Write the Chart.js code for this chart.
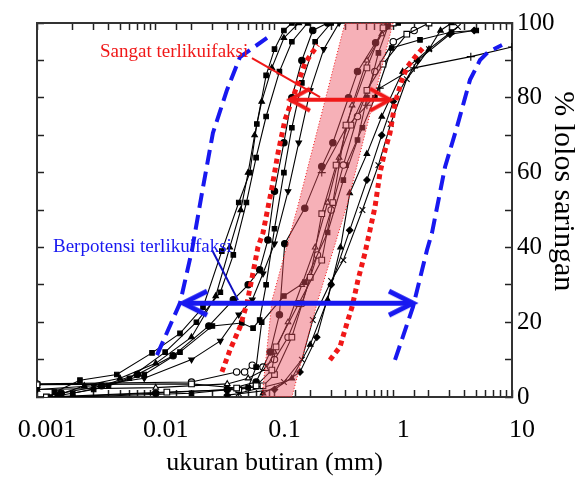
<!DOCTYPE html>
<html><head><meta charset="utf-8">
<script src="https://cdn.jsdelivr.net/npm/chart.js@4/dist/chart.umd.min.js"></script>
<style>html,body{margin:0;padding:0;background:#fff;}</style>
</head><body>
<canvas id="c" width="588" height="492"></canvas>
<script>
// ---- tick labels ----
const xTickLabels = ['0.001', '0.01', '0.1', '1', '10'];
const yTickLabels = [0, 20, 40, 60, 80, 100];

// ---- sample gradation curves [grain size mm, % passing] ----
const sampleA = [[0.0014,1.3],[0.0023,4.5],[0.0047,6],[0.0093,11.8],[0.016,17],[0.025,24],[0.036,39],[0.05,52],[0.062,60],[0.071,73],[0.085,86],[0.1,93],[0.12,98],[0.14,100]];
const sampleB = [[0.0015,0.5],[0.0025,3],[0.005,5],[0.01,9],[0.02,16],[0.032,27],[0.042,40],[0.052,50],[0.06,60],[0.068,70],[0.078,79],[0.095,88],[0.12,96],[0.16,100]];
const sampleC = [[0.0013,0],[0.003,2],[0.006,5],[0.012,12],[0.022,20],[0.035,28],[0.045,38],[0.058,52],[0.07,64],[0.085,75],[0.11,87],[0.14,95],[0.19,100]];
const sampleD = [[0.0016,1],[0.0035,3],[0.007,6],[0.014,11],[0.028,19],[0.045,26],[0.06,30],[0.075,34],[0.088,42],[0.1,55],[0.12,68],[0.14,80],[0.17,90],[0.21,98],[0.28,100]];
const sampleE = [[0.002,1],[0.004,3],[0.008,6],[0.016,12],[0.03,19],[0.053,19.8],[0.066,18.4],[0.075,20.6],[0.085,30],[0.1,45],[0.12,60],[0.14,72],[0.17,84],[0.22,95],[0.3,100]];
const sampleF = [[0.001,2],[0.003,3],[0.008,5],[0.02,10],[0.035,15],[0.05,22],[0.065,26],[0.08,33],[0.1,41],[0.13,55],[0.16,68],[0.2,82],[0.26,93],[0.35,100]];
const sampleG = [[0.001,3.3],[0.02,3.5],[0.048,2.4],[0.07,3],[0.095,7.2],[0.103,13.4],[0.16,25],[0.25,36.6],[0.31,52],[0.4,72.7],[0.6,88],[0.82,98.7],[1.0,100]];
const sampleH = [[0.0012,0],[0.0124,1.3],[0.05,2],[0.08,3],[0.1,6],[0.14,16],[0.2,32],[0.25,49],[0.33,62],[0.44,72.7],[0.6,82],[0.82,89],[1.3,97],[2,100]];
const sampleI = [[0.0015,0],[0.01,1],[0.04,2],[0.07,4],[0.092,12],[0.11,22],[0.122,41],[0.18,50.5],[0.25,61.6],[0.31,68],[0.42,80],[0.5,87],[0.71,94.7],[0.9,100]];
const sampleJ = [[0.002,0],[0.02,1],[0.06,2.5],[0.07,8],[0.078,20],[0.12,27],[0.18,30.7],[0.28,44],[0.38,58],[0.5,68.7],[0.6,80],[0.75,92],[0.9,99],[1.1,100]];
const sampleK = [[0.001,2],[0.01,2.5],[0.04,3.5],[0.06,5],[0.085,7.5],[0.1,12],[0.13,20],[0.17,30],[0.22,40],[0.28,52],[0.35,64],[0.45,78],[0.6,90],[0.8,97],[1.0,100]];
const sampleL = [[0.001,3.5],[0.02,4],[0.048,6.7],[0.056,6.7],[0.065,8.5],[0.08,8],[0.1,10],[0.13,16],[0.17,25],[0.23,38],[0.3,50],[0.38,62],[0.5,75],[0.7,87],[1.0,95],[1.5,98]];
const sampleM = [[0.04,0.5],[0.1,2],[0.164,6.7],[0.227,16],[0.3,30],[0.43,44.6],[0.6,58],[0.8,70],[1.0,79],[1.6,90],[3,97],[4.8,98]];
const sampleN = [[0.05,1],[0.12,4],[0.17,10],[0.21,20.6],[0.3,31],[0.38,36.6],[0.55,50],[0.75,62],[0.95,73],[1.3,85],[2.0,93],[3.5,99]];
const sampleO = [[0.08,1],[0.14,5],[0.2,14],[0.28,26],[0.36,40],[0.43,54.5],[0.6,65],[0.8,75],[1.2,87],[2.0,93],[2.5,98],[3.1,100]];
const sampleP = [[0.25,60],[0.4,72],[0.6,78],[0.77,82.6],[1.5,88],[4.5,91],[10,93.6]];
const sampleQ = [[0.4,62],[0.55,72],[0.7,80],[0.97,93.3],[1.68,95.5],[3.1,97.6],[5,98]];

// ---- boundary curves ----
const blueLeft  = [[0.01024,11.2],[0.016,25.1],[0.0202,39.3],[0.025,56.1],[0.0303,70.6],[0.0398,82.1],[0.0512,90.9],[0.0865,96]];
const blueRight = [[1.035,9.9],[1.466,24.1],[1.924,39.3],[2.12,43.9],[2.73,61.5],[3.44,72.2],[4.43,84.8],[5.38,90.1],[6.28,92.2],[8.24,94.1]];
const redLeft   = [[0.0361,6.7],[0.0422,12.6],[0.0512,18.7],[0.0587,25.1],[0.0659,33.2],[0.0726,40.1],[0.08,43.9],[0.0953,56.1],[0.107,65.2],[0.1225,74.1],[0.158,84],[0.181,89.3],[0.207,92],[0.232,94.1]];
const redRight  = [[0.293,9.9],[0.356,13.4],[0.408,19.8],[0.45,24.1],[0.505,31.3],[0.578,38.5],[0.702,50.8],[0.773,59.9],[0.853,66],[0.939,70.6],[1.035,78.6],[1.186,84.8],[1.306,88.2],[1.525,90.9],[1.78,93.3]];
// pink band outline (left edge up, right edge down)
const pinkBand  = [[0.0785,0],[0.0953,25.9],[0.158,51.3],[0.392,100],[0.995,100],[0.408,51.3],[0.232,25.9],[0.14,0],[0.0785,0]];

// ---- arrows & leader lines ----
const redArrow   = [[0.135,79.5],[0.94,79.5]];
const blueArrow  = [[0.017,25.1],[1.466,25.1]];
const redLeader  = [[0.0646,90.6],[0.242,80.2]];
const blueLeader = [[0.0298,39.3],[0.0493,25.9]];

// ---- annotation texts ----
const noteTexts = ['Sangat terlikuifaksi', 'Berpotensi terlikuifaksi'];
const noteAnchors = [[0.00339, 92.2], [0.001364, 40.1]];

// ---- styles (separate from data) ----
const samples = [sampleA,sampleB,sampleC,sampleD,sampleE,sampleF,sampleG,sampleH,sampleI,sampleJ,sampleK,sampleL,sampleM,sampleN,sampleO,sampleP,sampleQ];
const markerStyles = [
  ['rect',true,0],['triangle',true,0],['rect',true,0],['circle',true,0],['rect',true,0],['triangle',true,180],
  ['rect',false,0],['rect',false,0],['circle',true,0],['rect',true,0],['triangle',false,0],['circle',false,0],
  ['rectRot',true,0],['crossRot',false,0],['triangle',true,0],['cross',false,0],['rect',true,0]
];
const RED = '#f01818', BLUE = '#1818f0';

function chevron(dir, color, len, half, lw) {
  const c = document.createElement('canvas');
  const w = 2 * len + 10, h = 2 * half + 10;
  c.width = w; c.height = h;
  const g = c.getContext('2d');
  const cx = w / 2, cy = h / 2;
  g.strokeStyle = color; g.lineWidth = lw; g.lineCap = 'butt'; g.lineJoin = 'miter';
  g.beginPath();
  g.moveTo(cx - dir * len, cy - half); g.lineTo(cx, cy); g.lineTo(cx - dir * len, cy + half);
  g.stroke();
  return c;
}

const datasets = [];
samples.forEach((d, i) => {
  const [st, filled, rot] = markerStyles[i];
  datasets.push({
    data: d, order: 10, borderColor: '#000', borderWidth: 1.1,
    pointStyle: st, pointRotation: rot,
    pointRadius: (st === 'rect' && !filled) ? 4 : (st.startsWith('cross') ? 4 : 3.2),
    pointBorderColor: '#000', pointBorderWidth: 1.1,
    pointBackgroundColor: filled ? '#000' : '#fff'
  });
});
datasets.push({ data: pinkBand, order: 5, fill: 'shape', backgroundColor: 'rgba(236,80,95,0.45)',
  borderColor: RED, borderWidth: 1, borderDash: [1, 2], pointRadius: 0 });
datasets.push({ data: redLeft, order: 2, borderColor: RED, borderWidth: 5, borderDash: [5, 4], pointRadius: 0 });
datasets.push({ data: redRight, order: 2, borderColor: RED, borderWidth: 5, borderDash: [5, 4], pointRadius: 0 });
datasets.push({ data: blueLeft, order: 2, borderColor: BLUE, borderWidth: 4, borderDash: [15, 7], pointRadius: 0 });
datasets.push({ data: blueRight, order: 2, borderColor: BLUE, borderWidth: 4, borderDash: [15, 7], pointRadius: 0 });
datasets.push({ data: redLeader, order: 1, borderColor: RED, borderWidth: 2, pointRadius: 0 });
datasets.push({ data: blueLeader, order: 1, borderColor: '#1010c0', borderWidth: 2, pointRadius: 0 });
datasets.push({ data: redArrow, order: 0, borderColor: RED, borderWidth: 4, pointRadius: 6,
  pointStyle: [chevron(-1, RED, 20, 11, 4), chevron(1, RED, 20, 11, 4)] });
datasets.push({ data: blueArrow, order: 0, borderColor: BLUE, borderWidth: 5, pointRadius: 6,
  pointStyle: [chevron(-1, BLUE, 24, 12, 5), chevron(1, BLUE, 24, 12, 5)] });

const notePlugin = {
  id: 'notes',
  afterDatasetsDraw(chart) {
    const { ctx, scales: { x, y } } = chart;
    ctx.save();
    ctx.font = '19px "Liberation Serif"';
    ctx.textBaseline = 'middle';
    ctx.textAlign = 'left';
    const cols = [RED, BLUE];
    noteTexts.forEach((t, i) => {
      ctx.fillStyle = cols[i];
      ctx.fillText(t, x.getPixelForValue(noteAnchors[i][0]), y.getPixelForValue(noteAnchors[i][1]));
    });
    ctx.restore();
  }
};

const serif = 'Liberation Serif';
const gridInward = { drawOnChartArea: false, drawTicks: true, tickLength: -7, tickColor: '#222', tickWidth: 1.5 };
const borderStyle = { display: true, color: '#333', width: 2 };
const isDecade = v => Math.abs(Math.log10(v) - Math.round(Math.log10(v))) < 1e-6;
const noPad = s => { s.paddingLeft = 0; s.paddingRight = 0; s.paddingTop = 0; s.paddingBottom = 0; };

new Chart(document.getElementById('c'), {
  type: 'line',
  data: { datasets },
  options: {
    responsive: false, animation: false,
    layout: { padding: 0 },
    plugins: { legend: { display: false }, tooltip: { enabled: false } },
    elements: { line: { tension: 0 } },
    scales: {
      x: {
        type: 'logarithmic', position: 'bottom', min: 0.001, max: 10,
        grid: gridInward, border: borderStyle,
        ticks: {
          autoSkip: false, maxRotation: 0, minRotation: 0, padding: 25, labelOffset: 10,
          color: '#000', font: { family: serif, size: 26 },
          callback: v => isDecade(v) ? xTickLabels[Math.round(Math.log10(v)) + 3] : ''
        },
        title: { display: true, text: 'ukuran butiran (mm)', color: '#000',
          font: { family: serif, size: 26 }, padding: { top: 0, bottom: 13 } },
        afterFit: s => { s.height = 95; noPad(s); }
      },
      x2: {
        type: 'logarithmic', position: 'top', min: 0.001, max: 10,
        grid: gridInward, border: borderStyle,
        ticks: { display: false, autoSkip: false },
        afterFit: s => { s.height = 23; noPad(s); }
      },
      y: {
        type: 'linear', position: 'right', min: 0, max: 100,
        grid: gridInward, border: borderStyle,
        ticks: { stepSize: 10, padding: 12, color: '#000', font: { family: serif, size: 25 },
          callback: v => yTickLabels.includes(v) ? String(v) : '' },
        title: { display: true, text: '% lolos saringan     ', color: '#000',
          font: { family: serif, size: 30 }, padding: { top: 7, bottom: 0 } },
        afterFit: s => { s.width = 76; noPad(s); }
      },
      y2: {
        type: 'linear', position: 'left', min: 0, max: 100,
        grid: gridInward, border: borderStyle,
        ticks: { stepSize: 10, display: false },
        afterFit: s => { s.width = 37; noPad(s); }
      }
    }
  },
  plugins: [notePlugin]
});
</script>
</body></html>
